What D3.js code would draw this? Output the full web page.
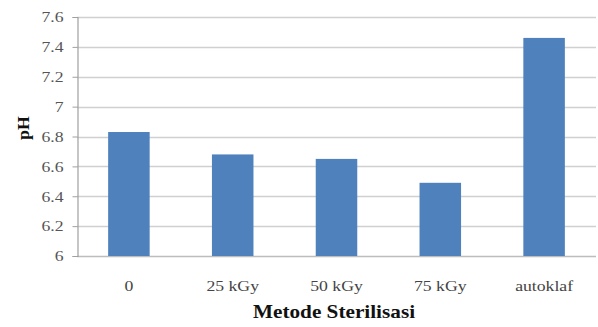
<!DOCTYPE html>
<html><head><meta charset="utf-8">
<script src="https://cdn.jsdelivr.net/npm/d3@7"></script>
<style>body{margin:0;background:#fff}svg{display:block}</style>
</head><body>
<svg id="c" width="598" height="327"></svg>
<script>
const categories = ["0", "25 kGy", "50 kGy", "75 kGy", "autoklaf"];
const phValues = [6.83, 6.68, 6.65, 6.49, 7.46];
const yTicks = [6, 6.2, 6.4, 6.6, 6.8, 7, 7.2, 7.4, 7.6];
const yTitle = "pH";
const xTitle = "Metode Sterilisasi";

const svg = d3.select("#c");
const m = {left: 77, right: 596, top: 17, bottom: 256};
const x = d3.scaleBand().domain(categories).range([m.left, m.right]).paddingInner(0.6).paddingOuter(0.3);
const y = d3.scaleLinear().domain([6, 7.6]).range([m.bottom, m.top]);
const SX = 1.18;

// gridlines
svg.append("g").selectAll("line").data(yTicks).join("line")
  .attr("x1", m.left).attr("x2", m.right)
  .attr("y1", d => Math.round(y(d)) + 0.5).attr("y2", d => Math.round(y(d)) + 0.5)
  .attr("stroke", d => d === 6 ? "#bdbdbd" : "#d0d0d0").attr("stroke-width", 1.4);

// bars
svg.append("g").selectAll("rect").data(phValues).join("rect")
  .attr("x", (d, i) => x(categories[i]))
  .attr("width", x.bandwidth())
  .attr("y", d => y(d))
  .attr("height", d => y(6) - y(d))
  .attr("fill", "#4f81bd");

// y axis
const yAxis = d3.axisLeft(y).tickValues(yTicks).tickSize(5).tickPadding(9).tickFormat(d => String(d));
const ya = svg.append("g").attr("transform", `translate(${m.left + 0.5},0)`).call(yAxis);
ya.select(".domain").attr("stroke", "#a0a0a0").attr("stroke-width", 1.2);
ya.selectAll(".tick line").attr("stroke", "#a0a0a0");
ya.selectAll(".tick text")
  .attr("font-family", "Liberation Serif").attr("font-size", 15).attr("fill", "#555")
  .attr("x", -14 / SX).attr("transform", `scale(${SX},1)`);

// x labels
const xa = svg.append("g").attr("transform", `translate(0,${m.bottom})`)
  .call(d3.axisBottom(x).tickSize(0).tickPadding(0));
xa.select(".domain").remove();
xa.selectAll(".tick text")
  .attr("font-family", "Liberation Serif").attr("font-size", 15).attr("fill", "#444")
  .attr("dy", 0).attr("y", 35).attr("transform", `scale(${SX},1)`);
xa.selectAll(".tick").each(function(d){
  const cx = x(d) + x.bandwidth()/2;
  d3.select(this).attr("transform", `translate(${cx},0)`);
});

// titles
svg.append("text").attr("transform", `translate(29,128) rotate(-90) scale(1.05,1)`)
  .attr("text-anchor", "middle").attr("font-family", "Liberation Serif")
  .attr("font-weight", "bold").attr("font-size", 17).attr("fill", "#111").text(yTitle);
svg.append("text").attr("transform", `translate(334,318) scale(${SX},1)`)
  .attr("text-anchor", "middle").attr("font-family", "Liberation Serif")
  .attr("font-weight", "bold").attr("font-size", 18).attr("fill", "#111").text(xTitle);
</script>
</body></html>
